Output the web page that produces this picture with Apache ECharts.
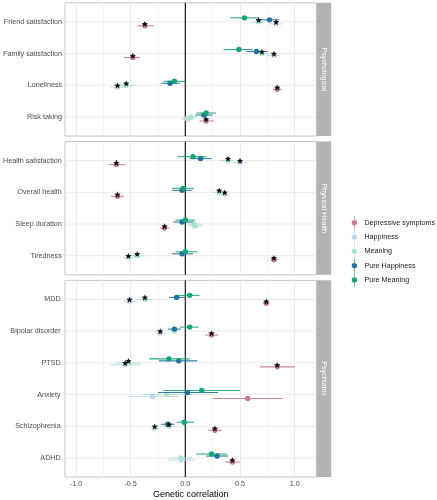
<!DOCTYPE html>
<html><head><meta charset="utf-8">
<script src="https://cdn.jsdelivr.net/npm/echarts@6/dist/echarts.min.js"></script>
<style>html,body{margin:0;padding:0;background:#fff}#c{width:437px;height:500px}</style>
</head><body><div id="c"></div>
<script>
// ---------------- data ----------------
const panelNames = ['Psychological', 'Physical Health', 'Psychiatric'];
const traitsPsychological = ['Friend satisfaction', 'Family satisfaction', 'Loneliness', 'Risk taking'];
const traitsPhysical = ['Health satisfaction', 'Overall health', 'Sleep duration', 'Tiredness'];
const traitsPsychiatric = ['MDD', 'Bipolar disorder', 'PTSD', 'Anxiety', 'Schizophrenia', 'ADHD'];
const groupNames = ['Depressive symptoms', 'Happiness', 'Meaning', 'Pure Happiness', 'Pure Meaning'];
const xTickValues = [-1.0, -0.5, 0.0, 0.5, 1.0];

// values in trait order: 4 psychological, 4 physical health, 6 psychiatric
const depEst = [-0.37, -0.48, 0.84, 0.19, -0.63, -0.62, -0.19, 0.81, 0.74, 0.24, 0.84, 0.57, 0.27, 0.43];
const depLo  = [-0.44, -0.56, 0.80, 0.13, -0.70, -0.68, -0.23, 0.78, 0.71, 0.18, 0.68, 0.25, 0.21, 0.36];
const depHi  = [-0.29, -0.41, 0.88, 0.26, -0.55, -0.56, -0.14, 0.85, 0.77, 0.30, 1.00, 0.89, 0.33, 0.50];
const depSig = [1, 1, 1, 1, 1, 1, 1, 1, 1, 1, 1, 0, 1, 1];

const hapEst = [0.83, 0.81, -0.62, 0.02, 0.50, 0.36, 0.09, -0.52, -0.51, -0.23, -0.55, -0.30, -0.28, -0.04];
const hapLo  = [0.76, 0.74, -0.68, -0.04, 0.43, 0.30, 0.03, -0.57, -0.56, -0.28, -0.69, -0.53, -0.32, -0.16];
const hapHi  = [0.89, 0.87, -0.56, 0.08, 0.57, 0.41, 0.16, -0.46, -0.46, -0.18, -0.41, -0.06, -0.24, 0.09];
const hapSig = [1, 1, 1, 0, 1, 1, 0, 1, 1, 1, 1, 0, 1, 0];

const meaEst = [0.67, 0.70, -0.54, 0.05, 0.39, 0.31, 0.08, -0.44, -0.37, -0.10, -0.52, -0.17, -0.15, -0.04];
const meaLo  = [0.60, 0.63, -0.61, -0.01, 0.32, 0.25, 0.02, -0.50, -0.43, -0.15, -0.64, -0.40, -0.20, -0.15];
const meaHi  = [0.73, 0.76, -0.47, 0.11, 0.45, 0.36, 0.15, -0.38, -0.30, -0.05, -0.41, 0.06, -0.10, 0.07];
const meaSig = [1, 1, 1, 0, 1, 1, 0, 1, 1, 0, 1, 0, 1, 0];

const phEst = [0.77, 0.65, -0.14, 0.17, 0.14, -0.03, -0.03, -0.03, -0.08, -0.10, -0.06, 0.02, -0.16, 0.29];
const phLo  = [0.65, 0.56, -0.22, 0.09, 0.04, -0.12, -0.11, -0.12, -0.15, -0.16, -0.24, -0.25, -0.22, 0.19];
const phHi  = [0.86, 0.75, -0.05, 0.25, 0.24, 0.06, 0.07, 0.07, 0.01, -0.04, 0.11, 0.30, -0.10, 0.39];
const phSig = [0, 0, 0, 0, 0, 0, 0, 0, 0, 0, 0, 0, 0, 0];

const pmEst = [0.54, 0.49, -0.10, 0.19, 0.07, -0.02, 0.00, 0.00, 0.04, 0.04, -0.15, 0.15, -0.01, 0.24];
const pmLo  = [0.41, 0.35, -0.20, 0.10, -0.07, -0.12, -0.09, -0.09, -0.07, -0.05, -0.33, -0.20, -0.08, 0.10];
const pmHi  = [0.67, 0.62, 0.00, 0.28, 0.19, 0.08, 0.09, 0.11, 0.13, 0.12, 0.04, 0.50, 0.08, 0.38];
const pmSig = [0, 0, 0, 0, 0, 0, 0, 0, 0, 0, 0, 0, 0, 0];

// ---------------- style / layout ----------------
const colors = ['#c97a90', '#c0d8ea', '#a9e6d0', '#22709d', '#17a47a'];
const dodge = [0.126, 0.063, 0, -0.063, -0.126];
const FONT = '"Liberation Sans", Arial, sans-serif';
const U = 31.73, TOP0 = 2.8, GAP = 5.5;
const PL = 65, PW = 251.6, XMIN = -1.1, XMAX = 1.2;
const PX = PW / (XMAX - XMIN);

const panelTraits = [traitsPsychological, traitsPhysical, traitsPsychiatric];
const est = [depEst, hapEst, meaEst, phEst, pmEst];
const lo = [depLo, hapLo, meaLo, phLo, pmLo];
const hi = [depHi, hapHi, meaHi, phHi, pmHi];
const sig = [depSig, hapSig, meaSig, phSig, pmSig];

const grids = [], xAxes = [], yAxes = [], series = [], graphics = [];
let panelTop = TOP0, start = 0;
panelTraits.forEach((traits, p) => {
  const n = traits.length;
  const H = (n + 0.2) * U;
  const base = p * 3;
  const last = p === panelTraits.length - 1;
  const s0 = start;
  // frame grid (border + data)
  grids.push({left: PL, top: panelTop, width: PW, height: H, show: true, borderColor: '#c4c4c4', borderWidth: 1, backgroundColor: 'transparent', containLabel: false});
  xAxes.push({type: 'value', gridIndex: base, min: XMIN, max: XMAX, show: last,
    axisLine: {show: false}, axisTick: {show: false}, axisLabel: {show: false}, splitLine: {show: false},
    name: last ? 'Genetic correlation' : '', nameLocation: 'middle', nameGap: 12.5,
    nameTextStyle: {fontSize: 9, color: '#000', fontFamily: FONT}});
  yAxes.push({type: 'value', gridIndex: base, min: -0.6, max: n - 0.4, inverse: true, show: false});
  // tick grid (vertical gridlines, x labels)
  const tl = PL + (xTickValues[0] - XMIN) * PX;
  const tw = (xTickValues[xTickValues.length - 1] - xTickValues[0]) * PX;
  grids.push({left: tl, top: panelTop, width: tw, height: H, show: false});
  xAxes.push({type: 'value', gridIndex: base + 1, min: xTickValues[0], max: xTickValues[xTickValues.length - 1], interval: 0.5,
    axisLine: {show: false}, axisTick: {show: false},
    axisLabel: {show: last, fontSize: 7.2, color: '#4d4d4d', margin: 3.8, fontFamily: FONT, formatter: v => v.toFixed(1)},
    splitLine: {show: true, lineStyle: {color: '#ebebeb', width: 1}},
    minorTick: {show: false, splitNumber: 2},
    minorSplitLine: {show: true, lineStyle: {color: '#f4f4f4', width: 1}}});
  yAxes.push({type: 'value', gridIndex: base + 1, show: false, min: 0, max: 1});
  // label grid (category labels)
  grids.push({left: PL, top: panelTop + 0.1 * U, width: PW, height: n * U, show: false});
  xAxes.push({type: 'value', gridIndex: base + 2, min: XMIN, max: XMAX, show: false});
  yAxes.push({type: 'category', gridIndex: base + 2, data: traits, inverse: true,
    axisLine: {show: false}, axisTick: {show: false}, splitLine: {show: false},
    axisLabel: {fontSize: 7.2, color: '#4d4d4d', margin: 4.3, fontFamily: FONT}});

  // horizontal gridlines at categories
  series.push({type: 'custom', xAxisIndex: base, yAxisIndex: base, z: 1, silent: true, clip: false,
    data: traits.map((t, i) => [i]),
    encode: {y: 0},
    renderItem: (params, api) => {
      const a = api.coord([XMIN, api.value(0)]), b = api.coord([XMAX, api.value(0)]);
      return {type: 'line', shape: {x1: a[0], y1: a[1], x2: b[0], y2: b[1]}, style: {stroke: '#ebebeb', lineWidth: 1}};
    }});
  // zero line
  series.push({type: 'custom', xAxisIndex: base, yAxisIndex: base, z: 2, silent: true, clip: false,
    data: [[0]],
    encode: {x: 0},
    renderItem: (params, api) => {
      const a = api.coord([api.value(0), -0.6]), b = api.coord([api.value(0), n - 0.4]);
      return {type: 'line', shape: {x1: a[0], y1: a[1], x2: b[0], y2: b[1]}, style: {stroke: '#1a1a1a', lineWidth: 1.2}};
    }});
  // groups
  groupNames.forEach((g, gi) => {
    const col = colors[gi];
    series.push({type: 'custom', name: g, xAxisIndex: base, yAxisIndex: base, z: 3, clip: false,
      itemStyle: {color: col},
      encode: {x: [0, 1, 2], y: 3},
      data: traits.map((t, i) => [est[gi][s0 + i], lo[gi][s0 + i], hi[gi][s0 + i], i + dodge[gi]]),
      renderItem: (params, api) => {
        const y = api.value(3);
        const c = api.coord([api.value(0), y]);
        const l = api.coord([api.value(1), y]);
        const h = api.coord([api.value(2), y]);
        return {type: 'group', children: [
          {type: 'line', shape: {x1: l[0], y1: c[1], x2: h[0], y2: c[1]}, style: {stroke: col, lineWidth: 1.1, opacity: 0.9}},
          {type: 'circle', shape: {cx: c[0], cy: c[1], r: 2.7}, style: {fill: col}}
        ]};
      }});
  });
  // significance stars
  const starData = [];
  groupNames.forEach((g, gi) => traits.forEach((t, i) => {
    if (sig[gi][s0 + i]) starData.push([est[gi][s0 + i], i + dodge[gi]]);
  }));
  series.push({type: 'custom', xAxisIndex: base, yAxisIndex: base, z: 4, clip: false, silent: true,
    data: starData, encode: {x: 0, y: 1},
    renderItem: (params, api) => {
      const c = api.coord([api.value(0), api.value(1)]);
      const cy = c[1] - 1.6, R = 3.3, r = 1.45, pts = [];
      for (let k = 0; k < 10; k++) {
        const ang = -Math.PI / 2 + k * Math.PI / 5;
        const rr = k % 2 === 0 ? R : r;
        pts.push([c[0] + rr * Math.cos(ang), cy + rr * Math.sin(ang)]);
      }
      return {type: 'polygon', shape: {points: pts}, style: {fill: '#111'}};
    }});

  // strip
  graphics.push({type: 'rect', shape: {x: PL + PW, y: panelTop, width: 14.6, height: H}, style: {fill: '#b3b3b3'}, z: 10});
  graphics.push({type: 'text', x: PL + PW + 7.3, y: panelTop + H / 2, rotation: -Math.PI / 2, z: 11,
    style: {text: panelNames[p], fill: '#ffffff', font: '7.2px ' + FONT, align: 'center', verticalAlign: 'middle'}});

  panelTop += H + GAP;
  start += n;
});

const iconPath = 'path://M4.7,0 L5.3,0 L5.3,14 L4.7,14 Z M2.3,7 A2.7,2.7 0 1 1 7.7,7 A2.7,2.7 0 1 1 2.3,7 Z';

const chart = echarts.init(document.getElementById('c'), null, {renderer: 'canvas'});
chart.setOption({
  animation: false,
  backgroundColor: '#ffffff',
  textStyle: {fontFamily: FONT},
  grid: grids,
  xAxis: xAxes,
  yAxis: yAxes,
  legend: {
    orient: 'vertical', left: 346.7, top: 210.7,
    itemWidth: 10, itemHeight: 14, itemGap: 0.3,
    selectedMode: false,
    textStyle: {fontSize: 7.2, color: '#1a1a1a', fontFamily: FONT},
    data: groupNames.map(n => ({name: n, icon: iconPath}))
  },
  graphic: graphics,
  series: series
});
</script>
</body></html>
